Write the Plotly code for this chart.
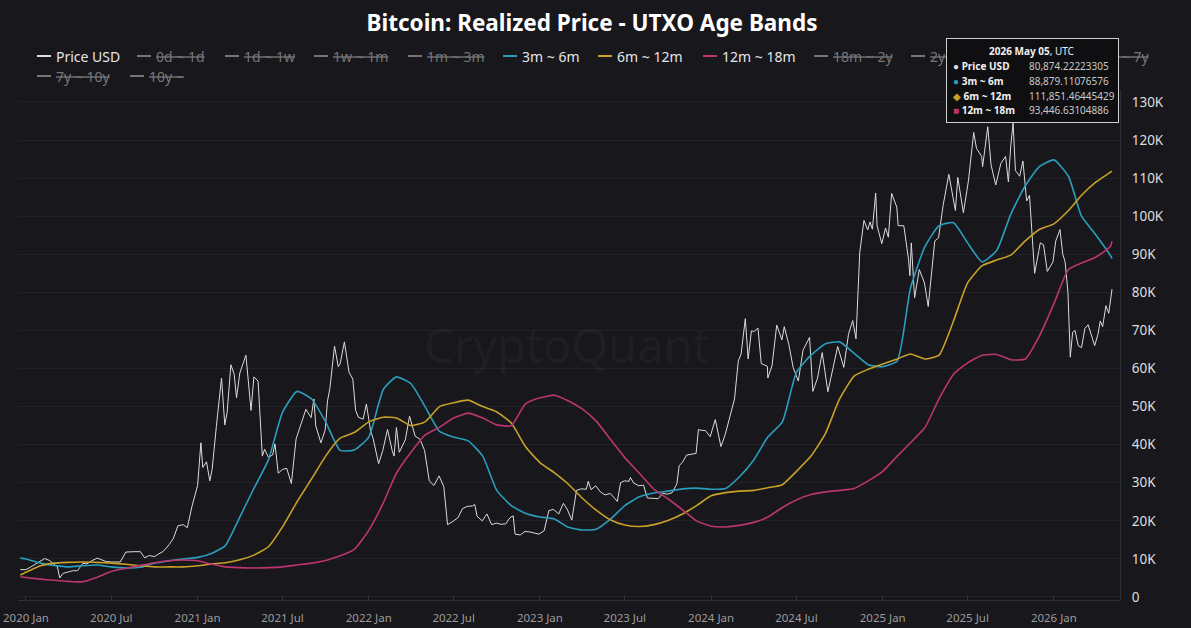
import pandas as pd
import plotly.graph_objects as go

# --- data (values in USD) ---
price_dates = [
    "2019-12-20",
    "2020-01-01", "2020-01-10", "2020-01-20", "2020-02-01", "2020-02-10", "2020-02-20",
    "2020-03-01", "2020-03-08", "2020-03-13", "2020-03-20", "2020-04-01", "2020-04-10", "2020-04-20",
    "2020-05-01", "2020-05-10", "2020-05-20", "2020-06-01", "2020-06-10", "2020-06-20",
    "2020-07-01", "2020-07-10", "2020-07-20", "2020-08-01", "2020-08-10", "2020-08-20",
    "2020-09-01", "2020-09-10", "2020-09-20", "2020-10-01", "2020-10-10", "2020-10-20",
    "2020-11-01", "2020-11-10", "2020-11-20", "2020-12-01", "2020-12-10", "2020-12-20",
    "2021-01-01", "2021-01-08", "2021-01-12", "2021-01-20", "2021-01-27",
    "2021-02-01", "2021-02-10", "2021-02-21", "2021-02-28",
    "2021-03-05", "2021-03-13", "2021-03-20", "2021-03-25",
    "2021-04-01", "2021-04-14", "2021-04-20", "2021-04-25",
    "2021-05-01", "2021-05-10", "2021-05-19", "2021-05-24",
    "2021-06-01", "2021-06-10", "2021-06-15", "2021-06-22",
    "2021-07-01", "2021-07-10", "2021-07-20", "2021-07-30",
    "2021-08-10", "2021-08-20", "2021-08-31",
    "2021-09-06", "2021-09-10", "2021-09-21", "2021-09-30",
    "2021-10-05", "2021-10-10", "2021-10-20", "2021-10-28",
    "2021-11-01", "2021-11-10", "2021-11-20", "2021-11-28",
    "2021-12-04", "2021-12-10", "2021-12-20", "2021-12-27",
    "2022-01-05", "2022-01-10", "2022-01-22", "2022-01-31",
    "2022-02-10", "2022-02-20", "2022-02-24",
    "2022-03-01", "2022-03-07", "2022-03-20", "2022-03-29",
    "2022-04-10", "2022-04-20", "2022-04-30",
    "2022-05-10", "2022-05-20", "2022-05-31",
    "2022-06-10", "2022-06-18", "2022-06-30",
    "2022-07-10", "2022-07-20", "2022-07-30",
    "2022-08-10", "2022-08-15", "2022-08-20", "2022-08-31",
    "2022-09-10", "2022-09-20", "2022-09-30",
    "2022-10-10", "2022-10-20", "2022-10-29",
    "2022-11-05", "2022-11-09", "2022-11-20", "2022-11-30",
    "2022-12-10", "2022-12-20", "2022-12-30",
    "2023-01-10", "2023-01-20", "2023-01-30",
    "2023-02-10", "2023-02-20", "2023-02-28",
    "2023-03-10", "2023-03-20", "2023-03-30",
    "2023-04-10", "2023-04-14", "2023-04-20", "2023-04-30",
    "2023-05-10", "2023-05-20", "2023-05-31",
    "2023-06-10", "2023-06-15", "2023-06-22", "2023-06-30",
    "2023-07-10", "2023-07-13", "2023-07-20", "2023-07-31",
    "2023-08-10", "2023-08-18", "2023-08-31",
    "2023-09-10", "2023-09-20", "2023-09-30",
    "2023-10-10", "2023-10-20", "2023-10-25",
    "2023-11-01", "2023-11-10", "2023-11-20", "2023-11-30",
    "2023-12-05", "2023-12-10", "2023-12-20", "2023-12-30",
    "2024-01-10", "2024-01-22", "2024-01-31",
    "2024-02-10", "2024-02-20", "2024-02-28",
    "2024-03-05", "2024-03-14", "2024-03-20", "2024-03-27",
    "2024-04-01", "2024-04-10", "2024-04-17", "2024-04-30",
    "2024-05-01", "2024-05-10", "2024-05-20", "2024-05-31",
    "2024-06-05", "2024-06-15", "2024-06-24",
    "2024-07-05", "2024-07-15", "2024-07-29",
    "2024-08-05", "2024-08-15", "2024-08-25",
    "2024-09-06", "2024-09-15", "2024-09-27",
    "2024-10-10", "2024-10-20", "2024-10-29",
    "2024-11-05", "2024-11-13", "2024-11-22", "2024-11-30",
    "2024-12-05", "2024-12-10", "2024-12-17", "2024-12-20", "2024-12-30",
    "2025-01-07", "2025-01-13", "2025-01-20", "2025-01-31",
    "2025-02-03", "2025-02-15", "2025-02-25", "2025-02-28",
    "2025-03-03", "2025-03-10", "2025-03-20", "2025-03-31",
    "2025-04-08", "2025-04-15", "2025-04-22", "2025-04-30",
    "2025-05-10", "2025-05-22", "2025-05-31",
    "2025-06-05", "2025-06-10", "2025-06-22", "2025-06-30",
    "2025-07-03", "2025-07-14", "2025-07-20", "2025-07-31",
    "2025-08-02", "2025-08-13", "2025-08-20", "2025-08-30",
    "2025-09-10", "2025-09-20", "2025-09-26",
    "2025-10-01", "2025-10-06", "2025-10-11", "2025-10-20", "2025-10-27",
    "2025-11-04", "2025-11-10", "2025-11-21", "2025-11-30",
    "2025-12-03", "2025-12-10", "2025-12-18", "2025-12-30",
    "2026-01-05", "2026-01-14", "2026-01-20", "2026-01-25", "2026-01-31",
    "2026-02-05", "2026-02-10", "2026-02-15", "2026-02-22",
    "2026-03-01", "2026-03-08", "2026-03-15", "2026-03-22", "2026-03-29",
    "2026-04-05", "2026-04-10", "2026-04-15", "2026-04-22", "2026-04-28",
    "2026-05-05",
]
price_usd = [
    7200,
    7200, 7800, 8600, 9400, 10100, 9600,
    8600, 7900, 5000, 6200, 6600, 6900, 6900,
    8800, 8700, 9500, 10200, 9800, 9300,
    9200, 9200, 9200, 11800, 11900, 11900,
    11900, 10300, 10900, 10600, 11300, 12000,
    13700, 15300, 18700, 19000, 18200, 23800,
    29300, 40500, 34000, 35500, 30500,
    33500, 44800, 57500, 45200,
    48500, 61000, 58500, 52300,
    58800, 63500, 56000, 49000,
    57800, 56700, 37000, 38800,
    36700, 37300, 40200, 32500,
    33500, 33800, 29800, 41500,
    45600, 49300, 47100,
    52000, 44900, 40500, 43800,
    51500, 54700, 65900, 60500,
    61300, 67000, 59000, 57200,
    49000, 47200, 46700, 50700,
    43500, 41800, 35000, 38500,
    44000, 38400, 37000,
    44500, 38000, 41300, 47500,
    42200, 41500, 38500,
    30500, 29300, 31800,
    29000, 19000, 19900,
    20800, 23200, 23800,
    23900, 24300, 21200, 20000,
    21800, 19000, 19400,
    19100, 19200, 20800,
    21300, 16500, 16300, 17200,
    17100, 16800, 16500,
    17400, 22700, 23000,
    21800, 24600, 23100,
    20200, 28000, 28400,
    28300, 30400, 28200, 29200,
    27600, 26800, 27200,
    25800, 25100, 30000, 30500,
    30400, 31400, 29900, 29200,
    29400, 26000, 25900,
    25800, 27200, 27000,
    27400, 29700, 34500,
    35400, 37300, 37500, 37700,
    44000, 43800, 43700, 42100,
    46600, 39500, 42600,
    47100, 52000, 62000,
    63800, 73100, 62500, 69900,
    69700, 70600, 61300, 60600,
    57500, 60800, 71400, 67500,
    71000, 66200, 60300,
    56700, 64800, 68200,
    54000, 57500, 64200,
    53900, 59200, 65800,
    60300, 69000, 72600,
    67800, 90500, 98900, 96400,
    98500, 96600, 106100, 97500, 92800,
    96900, 94500, 106000, 102400,
    97500, 97500, 88700, 84400,
    93000, 78600, 86000, 82500,
    76300, 84500, 93500, 94300,
    103000, 111000, 104600,
    101500, 110200, 100900, 107100,
    109500, 122000, 117800, 115700,
    113000, 123500, 113500, 108200,
    113900, 115700, 109000,
    118500, 124500, 112000, 110500, 114500,
    104000, 105500, 85000, 91000,
    93000, 92500, 85500, 88000,
    93500, 96500, 90000, 88000, 80000,
    63000, 69500, 70000, 66000,
    65500, 70500, 71500, 68500, 66000,
    69000, 72500, 71000, 76500, 74500,
    80874.22,
]

# band dates: first point, monthly from 2020-01 to 2026-05, last point
band_dates = (["2019-12-20"]
              + [d.strftime("%Y-%m-%d") for d in pd.date_range("2020-01-01", "2026-05-01", freq="MS")]
              + ["2026-05-05"])

band_3m_6m = [
    10200,
    10000, 8900, 8300, 7900, 8200, 8400, 7900, 7600, 7800, 8900, 9500, 10000,
    10400, 11500, 13500, 21000, 28500, 36000, 48500, 54000, 52000, 46000, 38500, 38600,
    42000, 54500, 57800, 56000, 50000, 43500, 42000, 41000, 37000, 28000, 24000, 22000,
    21000, 20500, 18400, 17600, 17800, 20500, 24000, 26300, 27300, 27800, 28400, 28600,
    28300, 28500, 31500, 36000, 42000, 46000, 59000, 63500, 66500, 67000, 64000, 61000,
    60500, 62000, 81000, 92000, 97500, 98300, 93000, 88000, 91000, 100500, 108000, 113000,
    114800, 110500, 100000, 95000, 89800,
    88879.11,
]
band_6m_12m = [
    5800,
    6500, 8200, 8900, 9100, 9200, 9100, 8900, 8600, 8200, 7900, 7900, 7900,
    8200, 8700, 9000, 9800, 11000, 13200, 18400, 25000, 31000, 37000, 41700, 43200,
    46000, 47200, 47000, 45000, 46000, 50000, 51000, 51700, 50000, 48600, 45700, 39500,
    35300, 32600, 29800, 26000, 22800, 20200, 18900, 18500, 19000, 20100, 21800, 24000,
    26600, 27400, 27800, 28000, 28700, 29500, 33000, 37000, 43000, 52000, 58000, 59800,
    61200, 62500, 63800, 62500, 63500, 72500, 82500, 87000, 88500, 89800, 93500, 96500,
    98000, 101500, 105500, 109000, 111500,
    111851.46,
]
band_12m_18m = [
    5300,
    5100, 4700, 4400, 4100, 4000, 5200, 6700, 7500, 8300, 9000, 9500, 9700,
    9500, 8600, 7900, 7700, 7600, 7700, 7900, 8400, 8900, 9600, 10800, 12500,
    17500, 24700, 32500, 38000, 42500, 44600, 47000, 48300, 47000, 45200, 45000, 50700,
    52300, 53000, 51600, 49400, 46200, 41300, 36600, 32500, 28300, 25800, 22900, 20000,
    18600, 18400, 18800, 19600, 21000, 23500, 25500, 26900, 27600, 28000, 28500, 30500,
    33000, 37000, 40500, 44500, 52000, 58500, 61500, 63500, 63700, 62300, 62500, 68500,
    77000, 86000, 87700, 89300, 92000,
    93446.63,
]

# legend entries (the age bands that are switched off are shown struck through)
legend_names = ["Price USD", "0d ~ 1d", "1d ~ 1w", "1w ~ 1m", "1m ~ 3m", "3m ~ 6m", "6m ~ 12m",
                "12m ~ 18m", "18m ~ 2y", "2y ~ 3y", "3y ~ 5y", "5y ~ 7y", "7y ~ 10y", "10y ~"]
legend_on = [True, False, False, False, False, True, True, True, False, False, False, False, False, False]

y_ticks = [0, 10000, 20000, 30000, 40000, 50000, 60000, 70000, 80000, 90000, 100000, 110000, 120000, 130000]
y_labels = ["0", "10K", "20K", "30K", "40K", "50K", "60K", "70K", "80K", "90K", "100K", "110K", "120K", "130K"]

BG = "#17171c"
C_PRICE = "#dcdcdc"
C_BLUE = "#2b9dbd"
C_GOLD = "#c9a128"
C_PINK = "#bd3570"
C_OFF = "#767676"
legend_colors = {"Price USD": C_PRICE, "3m ~ 6m": C_BLUE, "6m ~ 12m": C_GOLD, "12m ~ 18m": C_PINK}

fig = go.Figure()
fig.add_trace(go.Scatter(x=price_dates, y=price_usd, name="Price USD", mode="lines",
                         line=dict(color=C_PRICE, width=1)))
fig.add_trace(go.Scatter(x=band_dates, y=band_3m_6m, name="3m ~ 6m", mode="lines",
                         line=dict(color=C_BLUE, width=1.6, shape="spline", smoothing=0.5)))
fig.add_trace(go.Scatter(x=band_dates, y=band_6m_12m, name="6m ~ 12m", mode="lines",
                         line=dict(color=C_GOLD, width=1.6, shape="spline", smoothing=0.5)))
fig.add_trace(go.Scatter(x=band_dates, y=band_12m_18m, name="12m ~ 18m", mode="lines",
                         line=dict(color=C_PINK, width=1.6, shape="spline", smoothing=0.5)))

# plot area is 18..1120 px wide and 90..600 px tall; helpers to place things by pixel
def px_x(px):
    return (px - 18) / 1102

def px_y(py):
    return (600 - py) / 510

# hand-made legend, two rows like the original
leg_x = [37, 137, 225, 314, 408, 503, 598, 703, 814, 911, 1003, 1084, 37, 130]
leg_y = [56] * 12 + [76] * 2
for name, on, lx, ly in zip(legend_names, legend_on, leg_x, leg_y):
    col = legend_colors[name] if on else C_OFF
    fig.add_shape(type="line", xref="paper", yref="paper", x0=px_x(lx), x1=px_x(lx + 14),
                  y0=px_y(ly), y1=px_y(ly), line=dict(color=col, width=2))
    fig.add_annotation(x=px_x(lx + 17), y=px_y(ly), xref="paper", yref="paper", showarrow=False,
                       text=name if on else f"<s>{name}</s>", xanchor="left", yanchor="middle",
                       font=dict(family="Noto Sans, Arial", size=14,
                                 color="#e6e6e6" if on else C_OFF))

# tooltip box (top right)
fig.add_annotation(x=px_x(1032), y=px_y(80), xref="paper", yref="paper", showarrow=False,
                   text=" ", width=171, height=83, bgcolor="#0f0f12", bordercolor="#cfcfcf",
                   borderwidth=1, borderpad=0, xanchor="center", yanchor="middle")
tip_font = dict(family="Noto Sans, Arial", size=10, color="#f0f0f0")
fig.add_annotation(x=px_x(1032), y=px_y(51), xref="paper", yref="paper", showarrow=False,
                   text="<b>2026 May 05</b>, UTC", font=tip_font, xanchor="center", yanchor="middle")
tip_rows = [
    (C_PRICE, "●", "Price USD", "80,874.22223305"),
    (C_BLUE, "●", "3m ~ 6m", "88,879.11076576"),
    (C_GOLD, "◆", "6m ~ 12m", "111,851.46445429"),
    (C_PINK, "■", "12m ~ 18m", "93,446.63104886"),
]
for (col, sym, lab, val), py in zip(tip_rows, [66, 81, 96, 110]):
    fig.add_annotation(x=px_x(951), y=px_y(py), xref="paper", yref="paper", showarrow=False,
                       text=f"<span style='color:{col}'>{sym}</span> <b>{lab}</b>",
                       font=tip_font, xanchor="left", yanchor="middle")
    fig.add_annotation(x=px_x(1027), y=px_y(py), xref="paper", yref="paper", showarrow=False,
                       text=val, font=dict(family="Noto Sans, Arial", size=10, color="#c8c8c8"),
                       xanchor="left", yanchor="middle")

# watermark
fig.add_annotation(x=px_x(567), y=px_y(345), xref="paper", yref="paper", showarrow=False,
                   text="CryptoQuant", font=dict(family="Noto Sans, Arial", size=47,
                                                 color="rgba(255,255,255,0.05)"))

fig.update_layout(
    width=1191, height=628,
    paper_bgcolor=BG, plot_bgcolor=BG,
    margin=dict(l=18, r=71, t=90, b=28),
    font=dict(family="Noto Sans, Arial", color="#e0e0e0"),
    title=dict(text="<b>Bitcoin: Realized Price - UTXO Age Bands</b>", x=592 / 1191, xanchor="center",
               y=1 - 23 / 628, yanchor="middle", yref="container",
               font=dict(size=22.5, color="#ffffff")),
    showlegend=False,
    hovermode=False,
)
fig.update_xaxes(type="date", range=["2019-12-15", "2026-05-22"], dtick="M6", tick0="2020-01-01",
                 tickformat="%Y %b", showgrid=False, zeroline=False, automargin=False,
                 showline=True, linecolor="#2e2e35", ticks="inside", ticklen=4, tickcolor="#34343b",
                 ticklabelstandoff=7, tickfont=dict(size=11.5, color="#9c9c9c"))
fig.update_yaxes(side="right", range=[-790, 133150], tickvals=y_ticks, ticktext=y_labels,
                 showgrid=True, gridcolor="#222229", zeroline=False, automargin=False,
                 showline=True, linecolor="#2e2e35", ticks="", ticklabelstandoff=8,
                 tickfont=dict(size=13.5, color="#dedede"))

# the page body has a default 8px margin; drop it so the figure fills the window
fig.write_html("out.html", config={"displayModeBar": False},
               post_script="document.body.style.margin='0';")
